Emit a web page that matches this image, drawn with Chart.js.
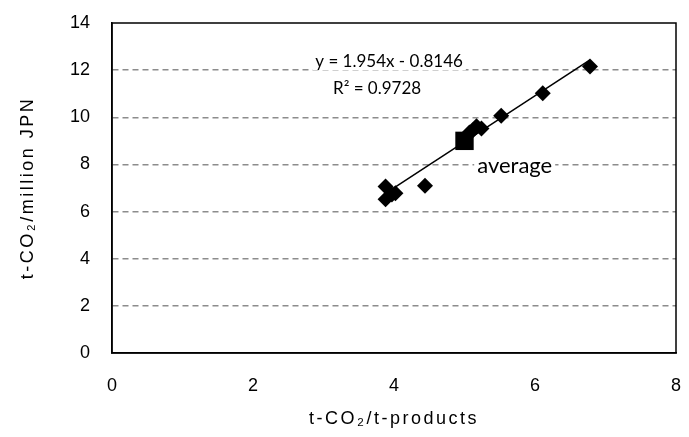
<!DOCTYPE html>
<html><head><meta charset="utf-8">
<script src="https://cdn.jsdelivr.net/npm/chart.js@4"></script>
<style>html,body{margin:0;padding:0;background:#fff}</style>
</head><body>
<canvas id="c" width="689" height="437"></canvas>
<script>
// ---- data ----
const xValues = [6.78, 6.11, 5.52, 5.24, 5.12, 5.17, 5.07, 4.44, 3.88, 4.02, 3.88, 3.97];
const yValues = [12.15, 11.02, 10.07, 9.52, 9.45, 9.62, 9.35, 7.10, 7.06, 6.78, 6.52, 6.72];
const averageX = [5.0];
const averageY = [9.0];
const trendSlope = 1.954;
const trendIntercept = -0.8146;
const xTickValues = [0, 2, 4, 6, 8];
const yTickValues = [0, 2, 4, 6, 8, 10, 12, 14];
const equationText = 'y = 1.954x - 0.8146';
const r2Text = 'R\u00B2 = 0.9728';
const averageText = 'average';
const xTitle = 't-CO\u2082/t-products';
const yTitle = 't-CO\u2082/million JPN';

const points = xValues.map((x, i) => ({x, y: yValues[i]}));
const avgPoints = averageX.map((x, i) => ({x, y: averageY[i]}));
const xMinData = Math.min(...xValues), xMaxData = Math.max(...xValues);
const trendPoints = [xMinData, xMaxData].map(x => ({x, y: trendSlope * x + trendIntercept}));

const frame = {
  id: 'frame',
  beforeDraw(chart) {
    chart.ctx.letterSpacing = '2.5px';
  },
  beforeDatasetsDraw(chart) {
    chart.ctx.letterSpacing = '0px';
  },
  afterDatasetsDraw(chart) {
    const {ctx, chartArea: a} = chart;
    ctx.save();
    ctx.strokeStyle = '#000';
    ctx.lineWidth = 1.5;
    ctx.setLineDash([]);
    ctx.strokeRect(a.left, a.top, a.right - a.left, a.bottom - a.top);
    ctx.restore();
  },
  afterDraw(chart) {
    const {ctx, scales: {x, y}} = chart;
    const labels = [
      {t: equationText, size: 17, px: x.getPixelForValue(3.93), py: y.getPixelForValue(12.38), align: 'center'},
      {t: r2Text, size: 17, px: x.getPixelForValue(3.76), py: y.getPixelForValue(11.2), align: 'center'},
      {t: averageText, size: 22, px: x.getPixelForValue(5.18), py: y.getPixelForValue(7.92), align: 'left'}
    ];
    ctx.save();
    ctx.letterSpacing = '0px';
    ctx.textBaseline = 'middle';
    labels.forEach(l => {
      ctx.font = l.size + 'px Lato';
      const w = ctx.measureText(l.t).width;
      const x0 = l.align === 'center' ? l.px - w / 2 : l.px;
      ctx.fillStyle = '#fff';
      ctx.fillRect(x0 - 3, l.py - 9, w + 6, 18);
      ctx.fillStyle = '#000';
      ctx.textAlign = 'left';
      ctx.fillText(l.t, x0, l.py);
    });
    ctx.restore();
  }
};

new Chart(document.getElementById('c'), {
  type: 'scatter',
  data: {
    datasets: [
      {label: 'trend', data: trendPoints, showLine: true, borderColor: '#000', borderWidth: 1.5, pointRadius: 0, order: 3},
      {label: 'data', data: points, pointStyle: 'rectRot', pointRadius: 8, pointHoverRadius: 8, backgroundColor: '#000', borderColor: '#000', borderWidth: 0, order: 2},
      {label: 'average', data: avgPoints, pointStyle: 'rect', pointRadius: 13, pointHoverRadius: 13, backgroundColor: '#000', borderColor: '#000', borderWidth: 0, order: 1}
    ]
  },
  options: {
    responsive: false,
    animation: false,
    events: [],
    layout: {padding: {left: 0, right: 7, top: 23, bottom: 0}},
    plugins: {legend: {display: false}, tooltip: {enabled: false}},
    scales: {
      x: {
        type: 'linear', min: 0, max: 8,
        afterBuildTicks: s => { s.ticks = xTickValues.map(v => ({value: v})); },
        afterFit: s => { s.height = 84; s.paddingLeft = 0; s.paddingRight = 0; },
        grid: {display: false},
        border: {display: true, color: '#000', width: 1.5},
        ticks: {color: '#000', font: {family: 'Liberation Sans', size: 18}, padding: 14, z: 1},
        title: {display: true, text: xTitle, color: '#000', font: {family: 'Liberation Sans', size: 18}, padding: {top: 0, bottom: 7}}
      },
      y: {
        type: 'linear', min: 0, max: 14,
        afterBuildTicks: s => { s.ticks = yTickValues.map(v => ({value: v})); },
        afterFit: s => { s.width = 112; s.paddingTop = 0; s.paddingBottom = 0; },
        grid: {
          color: ctx => (ctx.tick && (ctx.tick.value === 0 || ctx.tick.value === 14)) ? 'rgba(0,0,0,0)' : '#8c8c8c',
          lineWidth: 1.5,
          drawTicks: false
        },
        border: {display: true, color: '#000', width: 1.5, dash: [6, 4]},
        ticks: {color: '#000', font: {family: 'Liberation Sans', size: 18}, padding: 22, z: 1},
        title: {display: true, text: yTitle, color: '#000', font: {family: 'Liberation Sans', size: 18}, padding: {top: 17, bottom: 0}}
      }
    }
  },
  plugins: [frame]
});
</script>
</body></html>
